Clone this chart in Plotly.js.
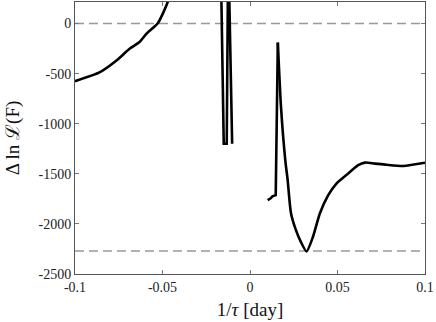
<!DOCTYPE html>
<html>
<head>
<meta charset="utf-8">
<script src="https://cdn.plot.ly/plotly-3.0.1.min.js"></script>
<style>
  html, body { margin: 0; padding: 0; background: #fff; }
  #chart { width: 436px; height: 322px; }
</style>
</head>
<body>
<div id="chart"></div>
<script>
// curve, in four pieces.
// left branch: runs off the top of the plot
const leftX = [-0.1, -0.086, -0.0763, -0.0688, -0.0631, -0.0591, -0.0528, -0.0471, -0.044]
const leftY = [-575, -488, -369, -252, -185, -100, 0, 212, 450]

// the two narrow spikes near -0.013 (tops are off the plot)
const spikeX = [-0.0165, -0.0150, -0.0133, -0.0126, -0.0120, -0.0106, -0.0102]
const spikeY = [400, -1200, -1200, 400, 400, -1200, -1200]

// small hook and sharp rise up to the peak
const riseX = [0.0101, 0.0118, 0.0128, 0.0147, 0.0159]
const riseY = [-1763, -1745, -1725, -1713, -190]

// from the peak down to the minimum and back up
const tailX = [0.0159, 0.0177, 0.0202, 0.0215, 0.0234, 0.0262, 0.0288, 0.0323,
    0.0360, 0.0399, 0.0447, 0.0494, 0.0561, 0.0618, 0.0657, 0.0714, 0.078, 0.0876, 0.1]
const tailY = [-190, -830, -1370, -1560, -1890, -2060, -2170, -2275,
    -2128, -1896, -1713, -1597, -1497, -1414, -1388, -1398, -1410, -1422, -1390]

// the two dashed reference levels
const refLevels = [0, -2270]
const xSpan = [-0.1, 0.1]

const xTicks = [-0.1, -0.05, 0, 0.05, 0.1]
const xTickText = ["-0.1", "-0.05", "0", "0.05", "0.1"]
const yTicks = [-2500, -2000, -1500, -1000, -500, 0]
const yTickText = ["-2500", "-2000", "-1500", "-1000", "-500", "0"]

const serif = "Liberation Serif, Times New Roman, serif"

const traces = []

for (let level of refLevels) {
    traces.push({
        x: xSpan,
        y: [level, level],
        mode: 'lines',
        type: 'scatter',
        line: {color: '#999999', width: 1.5, dash: '9px,5px'},
        hoverinfo: 'skip',
        showlegend: false
    })
}

function curvePiece(xs, ys, smooth) {
    return {
        x: xs,
        y: ys,
        mode: 'lines',
        type: 'scatter',
        line: {
            color: '#000000',
            width: 2.6,
            shape: smooth ? 'spline' : 'linear',
            smoothing: 0.6
        },
        showlegend: false
    }
}

traces.push(curvePiece(leftX, leftY, true))
traces.push(curvePiece(spikeX, spikeY, false))
traces.push(curvePiece(riseX, riseY, false))
traces.push(curvePiece(tailX, tailY, true))

const axisCommon = {
    showgrid: false,
    zeroline: false,
    showline: true,
    linecolor: '#555555',
    linewidth: 1,
    mirror: 'ticks',
    ticks: 'inside',
    ticklen: 4,
    tickcolor: '#777777',
    tickfont: {family: serif, size: 14, color: '#222222'},
}

const layout = {
    width: 436,
    height: 322,
    margin: {l: 75, r: 11, t: 2, b: 48, pad: 0},
    paper_bgcolor: '#ffffff',
    plot_bgcolor: '#ffffff',
    showlegend: false,
    xaxis: Object.assign({}, axisCommon, {
        range: xSpan,
        tickvals: xTicks,
        ticktext: xTickText,
        title: {text: '1/<i>τ</i> [day]', font: {family: serif, size: 19, color: '#111'}, standoff: 8}
    }),
    yaxis: Object.assign({}, axisCommon, {
        range: [-2500, 215],
        tickvals: yTicks,
        ticktext: yTickText,
        title: {text: 'Δ ln ℒ(F)', font: {family: serif, size: 19, color: '#111'}, standoff: 13}
    })
}

Plotly.newPlot('chart', traces, layout, {staticPlot: true})
</script>
</body>
</html>
